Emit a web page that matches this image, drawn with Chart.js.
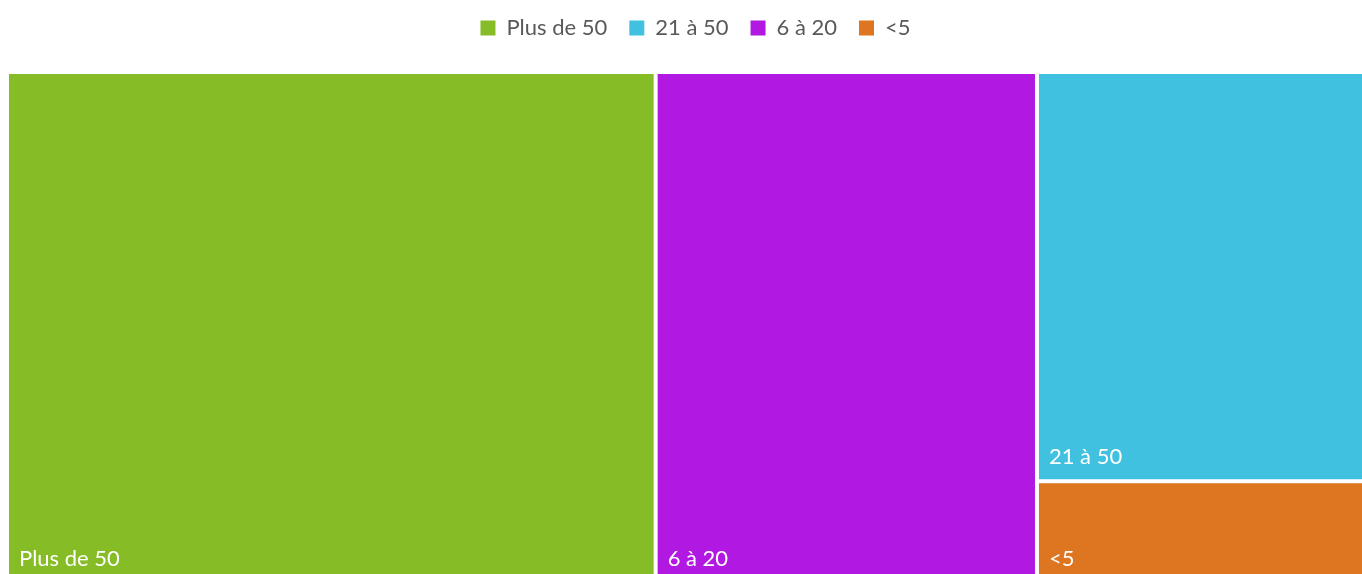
<!DOCTYPE html>
<html lang="fr">
<head>
<meta charset="utf-8">
<title>Treemap</title>
<script src="https://cdn.jsdelivr.net/npm/chart.js@4.4.1/dist/chart.umd.min.js"></script>
<style>
  html, body { margin: 0; padding: 0; background: #fff; overflow: hidden; }
  canvas { display: block; }
</style>
</head>
<body>
<canvas id="treemap" width="1366" height="584"></canvas>
<script>
// categories in legend order, with their share (%)
const categories = ['Plus de 50', '21 à 50', '6 à 20', '<5'];
const shares = [47.8, 19.3, 28.1, 4.8];
const colors = ['#86BC26', '#40C1E0', '#B118E1', '#DD7521'];

const FONT = 'Lato, "Open Sans", sans-serif';

// worst aspect ratio of a row laid along a side of given length
function worst(row, side) {
    const sum = row.reduce((s, n) => s + n.area, 0);
    let w = 0;
    row.forEach(n => {
        w = Math.max(w, (side * side * n.area) / (sum * sum), (sum * sum) / (side * side * n.area));
    });
    return w;
}

// squarified layout, in pixel-like units of the given rect
function squarify(nodes, rect) {
    const out = [];
    let rest = nodes.slice();
    let r = Object.assign({}, rect);
    while (rest.length) {
        const side = Math.min(r.w, r.h);
        const row = [rest[0]];
        let i = 1;
        while (i < rest.length && worst(row.concat(rest[i]), side) <= worst(row, side)) {
            row.push(rest[i]);
            i++;
        }
        rest = rest.slice(i);
        const sum = row.reduce((s, n) => s + n.area, 0);
        const thick = sum / side;
        let off = 0;
        if (r.w >= r.h) {
            row.forEach(n => {
                const len = n.area / thick;
                out.push({ node: n, x: r.x, y: r.y + off, w: thick, h: len });
                off += len;
            });
            r = { x: r.x + thick, y: r.y, w: r.w - thick, h: r.h };
        } else {
            row.forEach(n => {
                const len = n.area / thick;
                out.push({ node: n, x: r.x + off, y: r.y, w: len, h: thick });
                off += len;
            });
            r = { x: r.x, y: r.y + thick, w: r.w, h: r.h - thick };
        }
    }
    return out;
}

// draws the tiles instead of the bars, through the x/y scales (0..1)
const treemapPlugin = {
    id: 'treemap',
    beforeInit(chart) {
        // extra room under the legend, and nudge it to the right
        const legend = chart.legend;
        const fit = legend.fit;
        legend.fit = function () {
            fit.call(this);
            this.height += 23;
        };
        const draw = legend.draw;
        legend.draw = function () {
            const ctx = this.ctx;
            ctx.save();
            ctx.translate(10, 0);
            draw.call(this);
            ctx.restore();
        };
    },
    beforeDatasetsDraw(chart) {
        const { ctx, chartArea, scales } = chart;
        const W = chartArea.width, H = chartArea.height;
        const nodes = [];
        chart.data.datasets.forEach((ds, i) => {
            if (!chart.isDatasetVisible(i)) return;
            nodes.push({ label: ds.label, value: ds.data[0], color: ds.backgroundColor });
        });
        const total = nodes.reduce((s, n) => s + n.value, 0);
        nodes.sort((a, b) => b.value - a.value);
        nodes.forEach(n => { n.area = n.value / total * W * H; });

        const tiles = squarify(nodes, { x: 0, y: 0, w: W, h: H });
        const gap = 2;
        ctx.save();
        tiles.forEach(t => {
            const x0 = scales.x.getPixelForValue(t.x / W);
            const x1 = scales.x.getPixelForValue((t.x + t.w) / W);
            const y0 = scales.y.getPixelForValue(t.y / H);
            const y1 = scales.y.getPixelForValue((t.y + t.h) / H);
            ctx.fillStyle = t.node.color;
            ctx.fillRect(x0 + gap, y0 + gap, x1 - x0 - 2 * gap, y1 - y0 - 2 * gap);

            ctx.fillStyle = '#ffffff';
            ctx.font = '22px ' + FONT;
            ctx.textAlign = 'left';
            ctx.textBaseline = 'alphabetic';
            ctx.fillText(t.node.label, x0 + 12, y1 - 17);
        });
        ctx.restore();
        return false;
    }
};

new Chart(document.getElementById('treemap'), {
    type: 'bar',
    data: {
        datasets: categories.map((c, i) => ({
            label: c,
            data: [shares[i]],
            backgroundColor: colors[i],
            borderWidth: 0
        }))
    },
    options: {
        responsive: false,
        animation: false,
        devicePixelRatio: 1,
        layout: { padding: { left: 7, right: 2, top: -5, bottom: 1 } },
        scales: {
            x: { type: 'linear', display: false, min: 0, max: 1, offset: false },
            y: { type: 'linear', display: false, min: 0, max: 1, reverse: true, offset: false }
        },
        plugins: {
            tooltip: { enabled: false },
            legend: {
                position: 'top',
                labels: {
                    boxWidth: 15,
                    boxHeight: 15,
                    padding: 22,
                    color: '#595959',
                    font: { family: FONT, size: 22 }
                }
            }
        }
    },
    plugins: [treemapPlugin]
});
</script>
</body>
</html>
